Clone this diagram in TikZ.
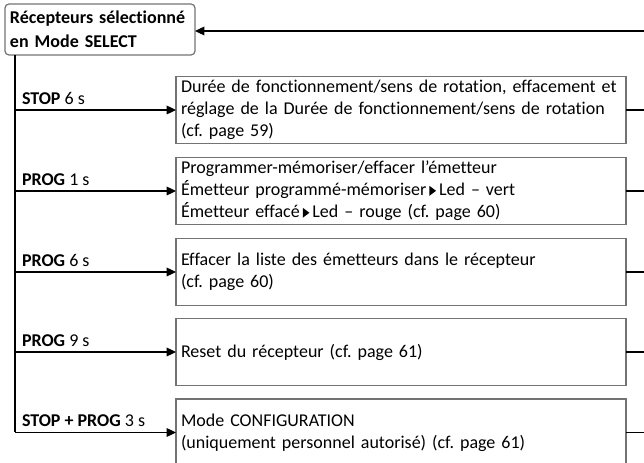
\documentclass[tikz,border=0pt]{standalone}
\usepackage{fontspec}
\setmainfont{Carlito}[RawFeature={-liga;-clig}]
\frenchspacing
\usetikzlibrary{arrows.meta}
\newcommand{\rtri}{\,\tikz[baseline=0pt]\fill (0,0) -- (0,7.5pt) -- (5pt,3.75pt) -- cycle;\,}
\begin{document}
\begin{tikzpicture}[x=0.75pt,y=-0.75pt,
  every node/.style={inner sep=0pt,outer sep=0pt},
  txt/.style={font=\fontsize{13.5}{16.5}\selectfont},
  boxn/.style={draw=black!55,line width=0.9pt,anchor=west,minimum width=450*0.75pt,minimum height=67*0.75pt,
    text width=440*0.75pt,align=left,inner xsep=5*0.75pt,txt},
  lab/.style={anchor=south west,txt},
  conn/.style={line width=0.9pt,black},
  arr/.style={conn,-{Triangle[length=7pt,width=6.5pt]}}]
\useasboundingbox (0,0) rectangle (644,463);
\node[draw=black!55,line width=0.9pt,rounded corners=3pt,anchor=north west,minimum width=187*0.75pt,minimum height=51*0.75pt,
  align=left,inner xsep=5*0.75pt,font=\fontsize{13.5}{18}\selectfont\bfseries,text width=180*0.75pt] (top) at (5,4)
  {Récepteurs sélectionné\\en Mode SELECT};
\coordinate (in) at (644,31);
\coordinate (t) at (15,55);
\node[boxn] (b1) at (176,110) {Durée de fonctionnement/sens de rotation, effacement et\\réglage de la Durée de fonctionnement/sens de rotation\\(cf. page 59)};
\node[boxn] (b2) at (176,191) {Programmer-mémoriser/effacer l’émetteur\\Émetteur programmé-mémoriser\rtri Led – vert\\Émetteur effacé\rtri Led – rouge (cf. page 60)};
\node[boxn] (b3) at (176,272) {Effacer la liste des émetteurs dans le récepteur\\(cf. page 60)};
\node[boxn] (b4) at (176,352) {Reset du récepteur (cf. page 61)};
\node[boxn] (b5) at (176,432.5) {Mode CONFIGURATION\\(uniquement personnel autorisé) (cf. page 61)};
\coordinate (c1) at (15,110);
\coordinate (c2) at (15,191);
\coordinate (c3) at (15,272);
\coordinate (c4) at (15,352);
\coordinate (c5) at (15,432.5);
\node[lab] (l1) at (22,105) {\textbf{STOP} 6 s};
\node[lab] (l2) at (22,186) {\textbf{PROG} 1 s};
\node[lab] (l3) at (22,267) {\textbf{PROG} 6 s};
\node[lab] (l4) at (22,347) {\textbf{PROG} 9 s};
\node[lab] (l5) at (22,427) {\textbf{STOP + PROG} 3 s};
\draw[conn] (t) -- (c5);
\foreach \i in {1,...,5}{
  \draw[arr] (c\i) -- (b\i.west);
  \draw[conn] (b\i.east) -- ++(20,0);
}
\draw[arr] (in) -- (top.east|-in);
\end{tikzpicture}
\end{document}
